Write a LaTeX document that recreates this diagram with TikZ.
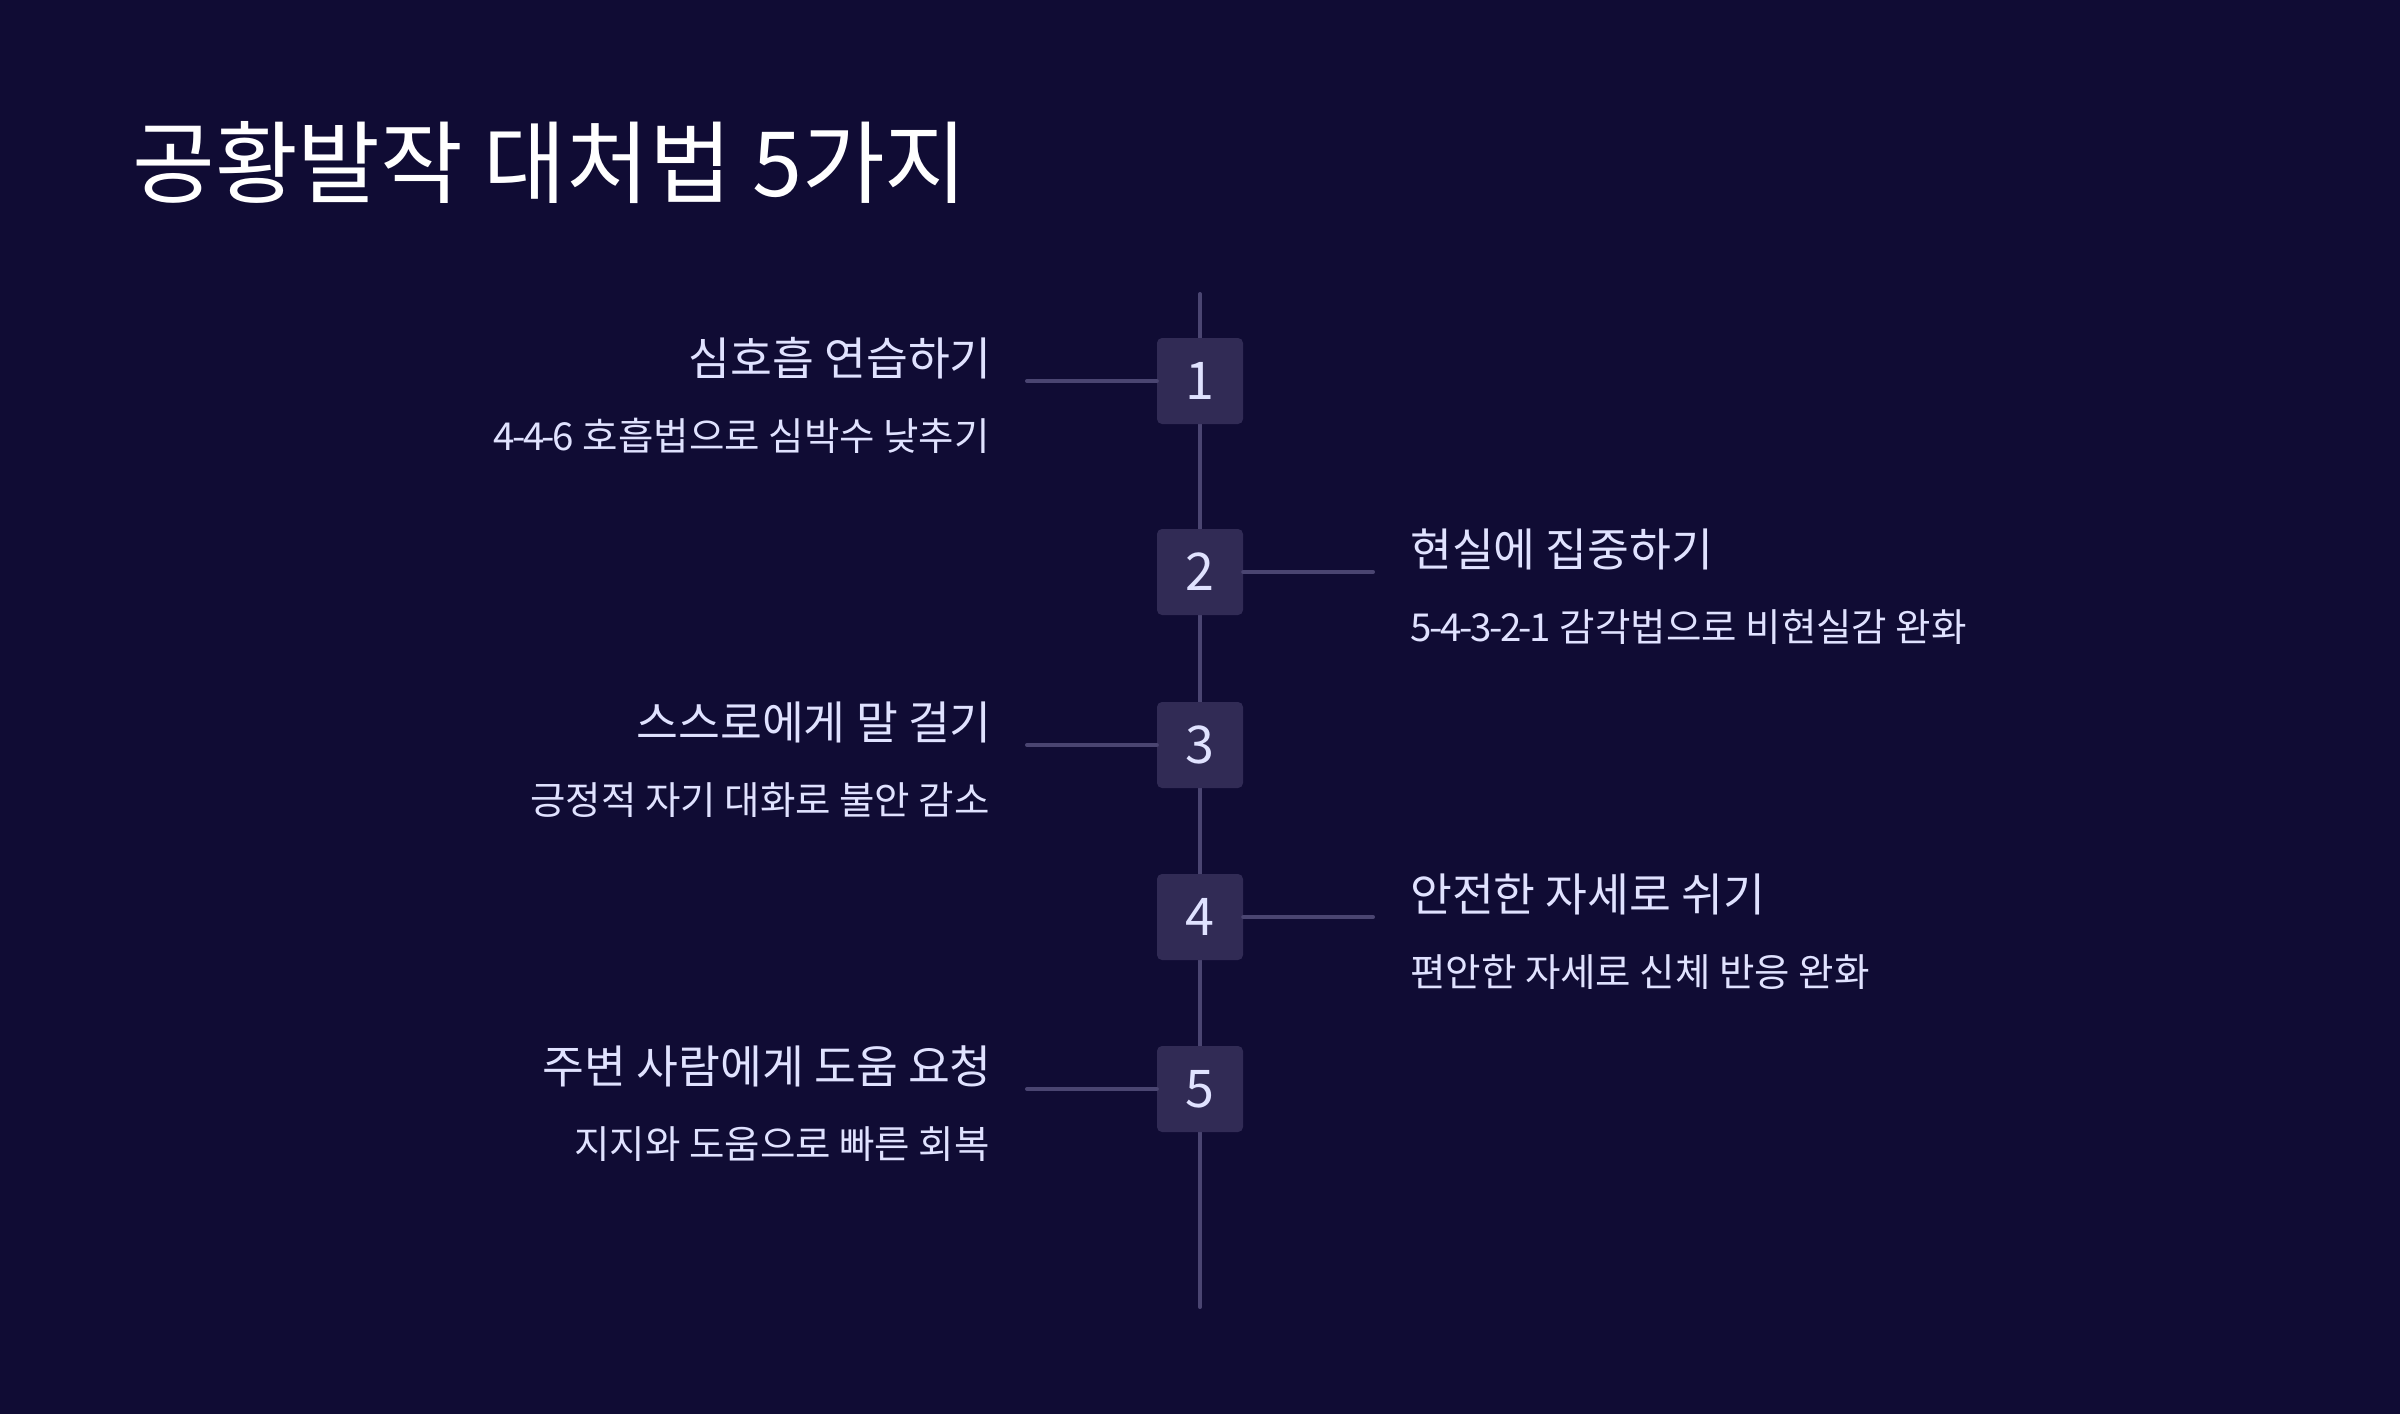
\documentclass[tikz,border=0pt]{standalone}
\usepackage{fontspec}
\setmainfont{Noto Sans CJK KR}
\definecolor{bg}{HTML}{100C34}
\definecolor{boxfill}{HTML}{312B55}
\definecolor{linec}{HTML}{4A4571}
\definecolor{txt}{HTML}{E0E2FF}
\newcommand{\hy}{\kern-2.4pt-\kern-2.4pt}
\tikzset{
  numbox/.style={fill=boxfill, rounded corners=5pt, minimum width=86pt, minimum height=86pt, inner sep=0pt, text=txt, font=\fontsize{52}{60}\selectfont},
  conn/.style={draw=linec, line width=4pt, line cap=round},
  ttl/.style={text=txt, inner sep=0pt, font=\fontsize{45.5}{55}\selectfont},
  sub/.style={text=txt, inner sep=0pt, font=\fontsize{38.5}{46}\selectfont},
}
\begin{document}
\begin{tikzpicture}[x=1pt,y=-1pt]
\fill[bg] (0,0) rectangle (2400,1414);
\useasboundingbox (0,0) rectangle (2400,1414);
\node[anchor=base west, inner sep=0pt, text=white, font=\fontsize{90}{100}\selectfont] (title) at (132,196) {공황발작 대처법 5가지};
\coordinate (top) at (1200,294);
\coordinate (bot) at (1200,1307);
\draw[conn] (top) -- (bot);
\foreach \n/\y in {1/381,2/572,3/745,4/917,5/1089}{
  \node[numbox] (b\n) at (1200,\y) {\n};
}
\coordinate (l1) at (1027,381);
\coordinate (r2) at (1373,572);
\coordinate (l3) at (1027,745);
\coordinate (r4) at (1373,917);
\coordinate (l5) at (1027,1089);
\draw[conn] (l1) -- (b1.west);
\draw[conn] (b2.east) -- (r2);
\draw[conn] (l3) -- (b3.west);
\draw[conn] (b4.east) -- (r4);
\draw[conn] (l5) -- (b5.west);
\node[ttl, anchor=base east] (t1) at (992,375) {심호흡 연습하기};
\node[sub, anchor=base east] (s1) at (990,450) {4\hy4\hy6 호흡법으로 심박수 낮추기};
\node[ttl, anchor=base west] (t2) at (1410,566) {현실에 집중하기};
\node[sub, anchor=base west] (s2) at (1410,641) {5\hy4\hy3\hy2\hy1 감각법으로 비현실감 완화};
\node[ttl, anchor=base east] (t3) at (992,739) {스스로에게 말 걸기};
\node[sub, anchor=base east] (s3) at (990,814) {긍정적 자기 대화로 불안 감소};
\node[ttl, anchor=base west] (t4) at (1410,911) {안전한 자세로 쉬기};
\node[sub, anchor=base west] (s4) at (1410,986) {편안한 자세로 신체 반응 완화};
\node[ttl, anchor=base east] (t5) at (992,1083) {주변 사람에게 도움 요청};
\node[sub, anchor=base east] (s5) at (990,1158) {지지와 도움으로 빠른 회복};
\end{tikzpicture}
\end{document}
